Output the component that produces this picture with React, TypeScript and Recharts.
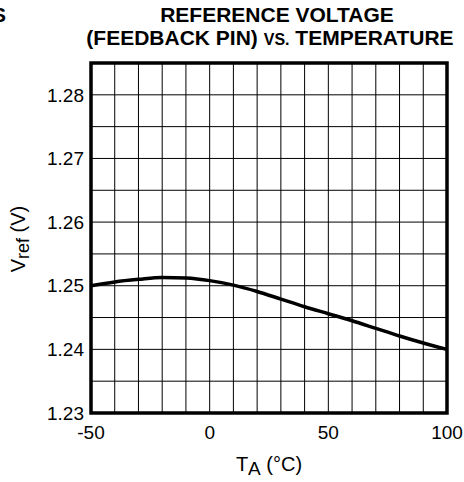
import React from "react";
import { CartesianGrid, Line, LineChart, ReferenceArea, XAxis, YAxis } from "recharts";

const temps = [-50, -40, -30, -20, -10, 0, 10, 20, 30, 40, 50, 60, 70, 80, 90, 100];
const vref = [
  1.25, 1.2506, 1.251, 1.2513, 1.2512, 1.2508, 1.2501, 1.2491, 1.2479, 1.2467, 1.2456, 1.2445, 1.2433,
  1.2421, 1.241, 1.24,
];
const xTicks = [-50, -40, -30, -20, -10, 0, 10, 20, 30, 40, 50, 60, 70, 80, 90, 100];
const yTicks = [1.23, 1.235, 1.24, 1.245, 1.25, 1.255, 1.26, 1.265, 1.27, 1.275, 1.28, 1.285];

const data = temps.map((t, i) => ({ t, v: vref[i] }));

const FONT = "'Liberation Sans', Arial, sans-serif";

const fmtX = (v: number) => (v % 50 === 0 ? String(v) : "");
const fmtY = (v: number) => {
  const h = v * 100;
  return Math.abs(h - Math.round(h)) < 1e-6 ? v.toFixed(2) : "";
};

const XTick = (props: any) => {
  const { x, y, payload } = props;
  const label = fmtX(payload.value);
  if (!label) return null;
  return (
    <text x={x} y={y} dy="0.71em" textAnchor="middle" fill="#000" fontSize={19} fontFamily={FONT}>
      {label}
    </text>
  );
};

const YTick = (props: any) => {
  const { x, y, payload } = props;
  const label = fmtY(payload.value);
  if (!label) return null;
  return (
    <text x={x} y={y} dy="0.355em" textAnchor="end" fill="#000" fontSize={19} fontFamily={FONT}>
      {label}
    </text>
  );
};

export default function App() {
  return (
    <div style={{ position: "absolute", left: 0, top: 0, width: 464, height: 482, background: "#fff", fontFamily: FONT }}>
      <LineChart
        width={464}
        height={482}
        data={data}
        margin={{ top: 63, right: 17, bottom: 29, left: 31 }}
      >
        <CartesianGrid stroke="#000" strokeWidth={1} strokeOpacity={1} />
        <XAxis
          dataKey="t"
          type="number"
          domain={[-50, 100]}
          ticks={xTicks}
          interval={0}
          height={40}
          axisLine={false}
          tickLine={false}
          tickSize={0}
          tickMargin={13}
          tick={<XTick />}
        />
        <YAxis
          type="number"
          domain={[1.23, 1.285]}
          ticks={yTicks}
          interval={0}
          width={60}
          axisLine={false}
          tickLine={false}
          tickSize={0}
          tickMargin={7}
          tick={<YTick />}
        />
        <ReferenceArea
          x1={-50}
          x2={100}
          y1={1.23}
          y2={1.285}
          fill="none"
          fillOpacity={0}
          stroke="#000"
          strokeWidth={3.5}
          strokeOpacity={1}
        />
        <Line
          type="monotone"
          dataKey="v"
          stroke="#000"
          strokeWidth={3.5}
          dot={false}
          isAnimationActive={false}
        />
      </LineChart>
      <svg
        width={464}
        height={482}
        style={{ position: "absolute", left: 0, top: 0, pointerEvents: "none" }}
        fontFamily={FONT}
      >
        <text x={6} y={22} textAnchor="end" fontSize={21} fontWeight="bold">
          S
        </text>
        <text x={277} y={22} textAnchor="middle" fontSize={21} fontWeight="bold">
          REFERENCE VOLTAGE
        </text>
        <text x={270} y={45} textAnchor="middle" fontSize={21} fontWeight="bold">
          (FEEDBACK PIN) <tspan fontSize={16}>VS.</tspan> TEMPERATURE
        </text>
        <text x={269} y={471} textAnchor="middle" fontSize={20}>
          T<tspan fontSize={19} dy={4}>A</tspan>
          <tspan dy={-4}> (°C)</tspan>
        </text>
        <text x={25} y={239} textAnchor="middle" fontSize={20} transform="rotate(-90 25 239)">
          V<tspan fontSize={18} dy={4}>ref</tspan>
          <tspan dy={-4}> (V)</tspan>
        </text>
      </svg>
    </div>
  );
}
